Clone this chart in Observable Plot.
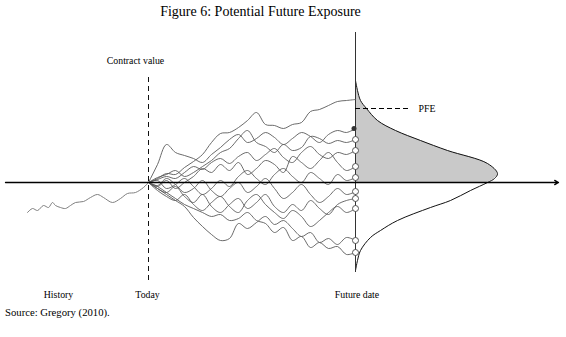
<!DOCTYPE html>
<html>
<head>
<meta charset="utf-8">
<script src="https://cdn.jsdelivr.net/npm/d3@7"></script>
<script src="https://cdn.jsdelivr.net/npm/@observablehq/plot@0.6"></script>
<style>
  html, body { margin: 0; padding: 0; background: #fff; }
  body { position: relative; width: 566px; height: 337px; overflow: hidden; font-family: "Liberation Serif", "Times New Roman", serif; color: #000; }
  #title { position: absolute; left: 0; top: 3.5px; width: 521px; text-align: center; font-size: 14px; line-height: 16px; }
  #chart { position: absolute; left: 0; top: 24px; }
  #chart svg, #chart svg text { font-family: "Liberation Serif", "Times New Roman", serif !important; }
  #source { position: absolute; left: 5px; top: 306px; font-size: 10.7px; line-height: 12px; }
</style>
</head>
<body>
<div id="title">Figure 6: Potential Future Exposure</div>
<div id="chart"></div>
<div id="source">Source: Gregory (2010).</div>
<script>
// Time grid of simulated paths (today = 0, future date = 207)
const times = [0,9,18,27,36,45,54,63,72,81,90,99,108,117,126,135,144,153,162,171,180,189,198,207];
const horizon = 207;

// Simulated future exposure paths (value, 0 = contract value today)
const path1  = [0,4,9,8,15,21,28,40,49,50,55,62,70,58,57,54,58,60,71,73,77,81,82,83];
const path2  = [0,18,38,30,27,24,20,28,35,43,48,40,44,50,45,38,44,50,46,40,48,52,50,54];
const path3  = [0,5,8,12,6,10,16,22,30,34,44,52,40,36,30,38,32,35,46,44,39,42,40,43];
const path4  = [0,3,6,4,10,16,13,20,24,19,26,30,22,28,34,25,20,30,36,28,24,30,28,32];
const path5  = [0,-4,2,-6,0,6,14,10,18,12,20,8,14,22,18,10,26,20,14,22,30,20,12,16];
const path6  = [0,2,-6,-2,4,-4,-12,-6,2,-4,6,12,4,-2,8,14,6,0,10,4,-2,8,2,5];
const path7  = [0,-3,4,-2,-10,-6,2,-8,-14,-6,0,-10,-4,4,-6,-16,-10,-2,-12,-20,-14,-6,-12,-9];
const path8  = [0,-6,-10,-4,-14,-20,-12,-24,-30,-22,-16,-26,-20,-12,-24,-30,-22,-28,-18,-26,-32,-22,-18,-16];
const path9  = [0,-8,-14,-18,-12,-22,-28,-20,-14,-24,-30,-18,-12,-22,-30,-36,-28,-34,-44,-38,-30,-24,-30,-26];
const path10 = [0,-6,-12,-18,-24,-35,-44,-52,-58,-56,-41,-46,-40,-34,-42,-38,-46,-54,-50,-60,-56,-62,-55,-58];
const path11 = [0,-4,-10,-16,-22,-26,-30,-34,-32,-38,-36,-30,-38,-41,-50,-45,-58,-54,-65,-60,-66,-64,-72,-70];
const paths = [path1,path2,path3,path4,path5,path6,path7,path8,path9,path10,path11];
const endMarker = ["none","filled","open","open","open","open","open","open","open","open","open"];

// Historical path (time before today, value)
const historyT = [-121,-116,-111,-105,-100,-96,-93,-88,-83,-78,-73,-65,-58,-51,-45,-36,-28,-21,-13,-5,0];
const historyV = [-30,-26,-28,-23,-25,-20,-23,-25,-26,-23,-20,-19,-15,-12,-15,-20,-16,-11,-10,-5,0];

// Exposure distribution at the future date (value, density width)
const distV = [102,92,82,74,62,52,42,32,19,9,4,0,-8,-18,-25,-38,-48,-55,-68,-78,-88];
const distD = [0,2,5,11,22,40,65,92,132,142,139,132,115,95,75,42,25,15,5,2,0];

// Potential future exposure level
const pfe = 74;

// Annotations
const labelText = ["Contract value","History","Today","Future date"];
const labelT = [-13,-90,-1,208.5];
const labelV = [122,-112,-112,-112];

const pathRows = paths.flatMap((p, k) => p.map((v, i) => ({id: k, t: times[i], v})));
const ends = paths.map((p, k) => ({t: horizon, v: p[p.length - 1], marker: endMarker[k]}));
const history = historyT.map((t, i) => ({t, v: historyV[i]}));
const dist = distV.map((v, i) => ({v, x: horizon + distD[i], x0: horizon}));
const labels = labelText.map((s, i) => ({s, t: labelT[i], v: labelV[i]}));

const font = "Liberation Serif, Times New Roman, serif";

const chart = Plot.plot({
  width: 566,
  height: 276,
  margin: 0,
  style: {background: "#fff", fontFamily: font},
  x: {domain: [-148, 418], axis: null},
  y: {domain: [-118, 158], axis: null},
  marks: [
    Plot.areaX(dist.filter(d => d.v >= 0), {y: "v", x1: "x0", x2: "x", fill: "#c9c9c9", curve: "catmull-rom"}),
    Plot.line(dist, {x: "x", y: "v", stroke: "#111", strokeWidth: 1, curve: "catmull-rom"}),
    Plot.ruleX([horizon], {y1: -90, y2: 150, stroke: "#333", strokeWidth: 1}),
    Plot.ruleX([0], {y1: -98, y2: 109, stroke: "#111", strokeWidth: 1, strokeDasharray: "5,4"}),
    Plot.line(history, {x: "t", y: "v", stroke: "#808080", strokeWidth: 1, curve: "catmull-rom"}),
    Plot.line(pathRows, {x: "t", y: "v", z: "id", stroke: "#5a5a5a", strokeWidth: 0.9, curve: "catmull-rom"}),
    Plot.arrow([0], {x1: -143, y1: 0, x2: 410, y2: 0, stroke: "#000", strokeWidth: 1.3, headLength: 5}),
    Plot.ruleY([pfe], {x1: horizon, x2: horizon + 53, stroke: "#000", strokeWidth: 1, strokeDasharray: "5,3"}),
    Plot.dot(ends.filter(d => d.marker === "open"), {x: "t", y: "v", r: 3, fill: "#fff", stroke: "#444", strokeWidth: 0.9}),
    Plot.dot(ends.filter(d => d.marker === "filled"), {x: d => d.t - 1.5, y: "v", r: 2.5, fill: "#333", stroke: "none"}),
    Plot.text(["PFE"], {x: horizon + 63, y: pfe, text: d => d, textAnchor: "start", fontSize: 9.8, fontFamily: font, fill: "#000"}),
    Plot.text(labels, {x: "t", y: "v", text: "s", fontSize: 9.8, fontFamily: font, fill: "#000"})
  ]
});
document.getElementById("chart").appendChild(chart);
</script>
</body>
</html>
